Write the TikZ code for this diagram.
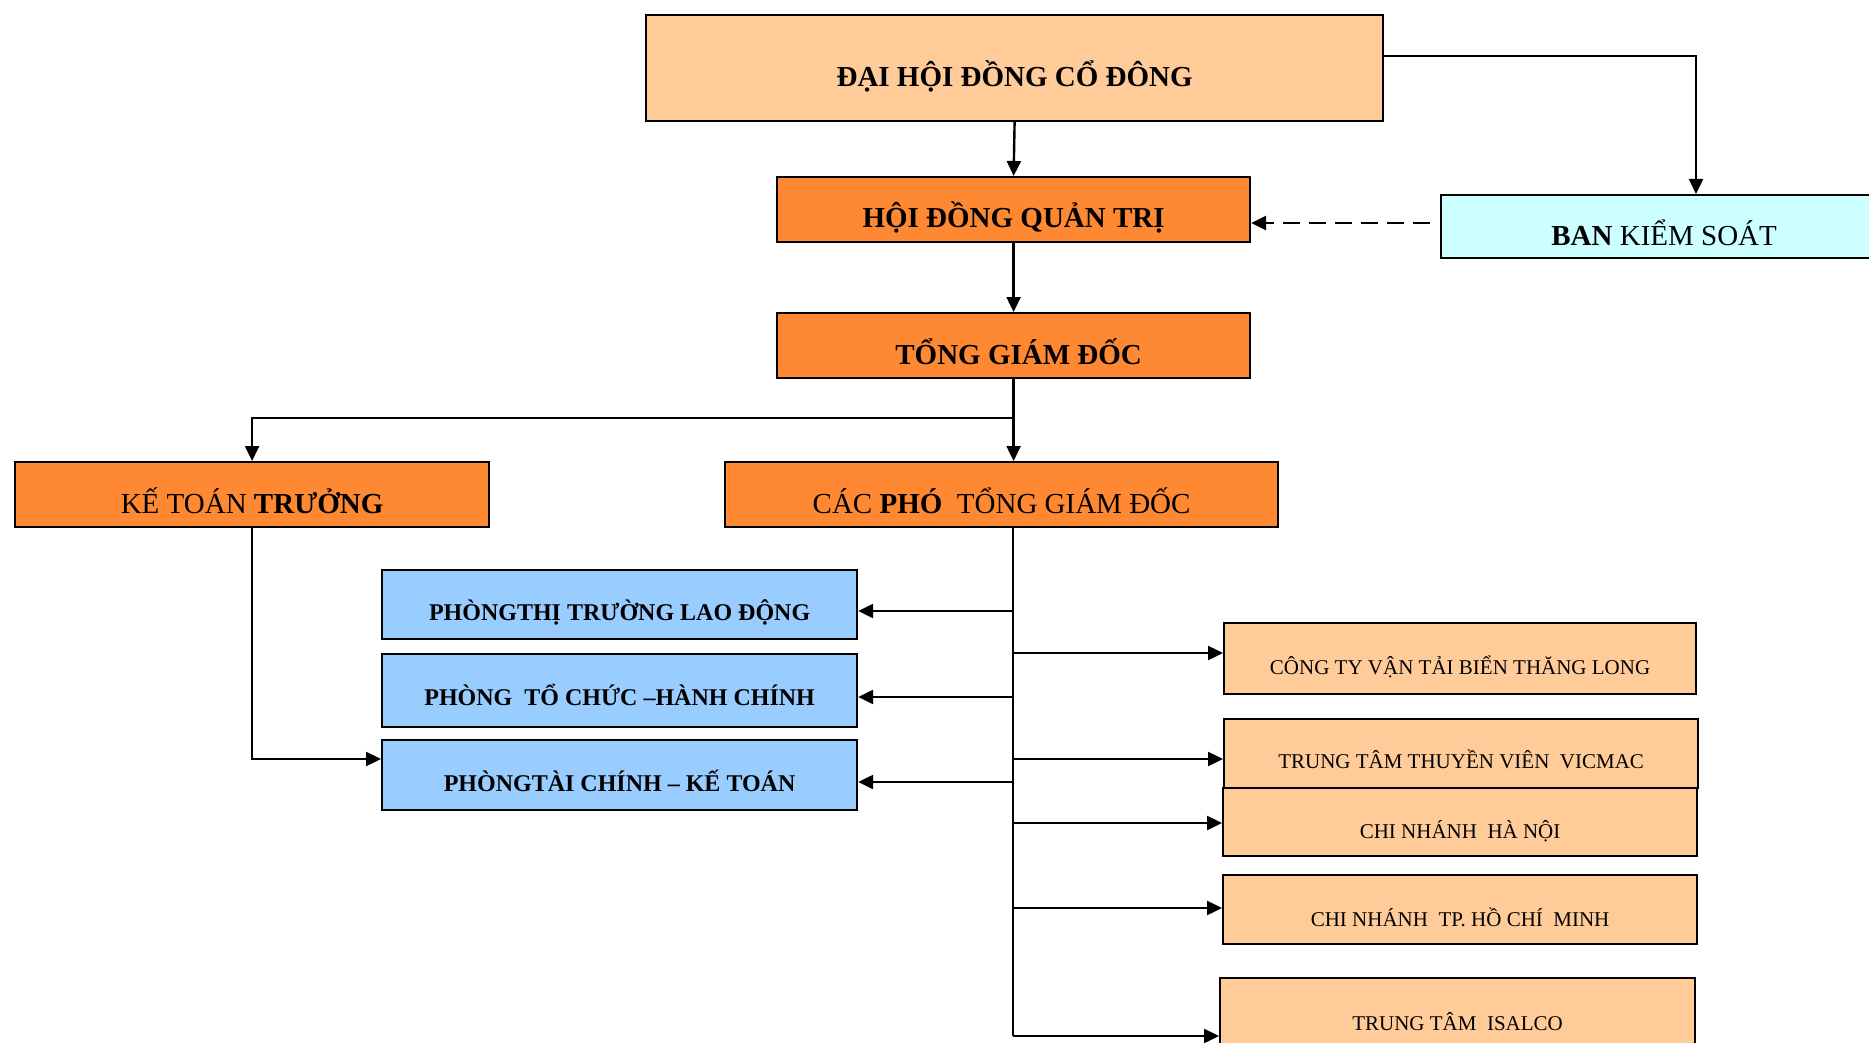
\documentclass[tikz,border=0pt]{standalone}
\usepackage{fontspec}
\setmainfont{Liberation Serif}
\usetikzlibrary{arrows.meta}
\definecolor{peach}{HTML}{FFCC99}
\definecolor{orng}{HTML}{FF8833}
\definecolor{cyanl}{HTML}{CCFFFF}
\definecolor{bluel}{HTML}{99CCFF}
\begin{document}
\begin{tikzpicture}[x=1pt,y=-1pt,
  box/.style={draw=black,line width=2.2pt,inner sep=0pt,anchor=north west},
  tA/.style={inner sep=0pt,font=\fontsize{29}{34}\selectfont,text height=19.2pt,text depth=0pt},
  tB/.style={inner sep=0pt,font=\fontsize{24}{28}\selectfont\bfseries,text height=15.9pt,text depth=0pt},
  tC/.style={inner sep=0pt,font=\fontsize{21}{25}\selectfont,text height=13.9pt,text depth=0pt},
  arr/.style={line width=2.4pt,-{Triangle[length=15pt,width=14pt]}},
  plain/.style={line width=2.4pt},
  dasharr/.style={line width=2.6pt,dash pattern=on 17pt off 9pt,-{Triangle[length=15pt,width=14pt]}}]
\useasboundingbox (0,0) rectangle (1869,1043);
\clip (0,0) rectangle (1869,1043);
% boxes
\node[box,fill=peach,minimum width=737pt,minimum height=106pt] (dhd) at (645,14) {};
\node[box,fill=orng,minimum width=473pt,minimum height=65pt] (hdqt) at (776,176) {};
\node[box,fill=cyanl,minimum width=446pt,minimum height=63pt] (bks) at (1440,194) {};
\node[box,fill=orng,minimum width=473pt,minimum height=65pt] (tgd) at (776,312) {};
\node[box,fill=orng,minimum width=474pt,minimum height=65pt] (ktt) at (14,461) {};
\node[box,fill=orng,minimum width=553pt,minimum height=65pt] (ptgd) at (724,461) {};
\node[box,fill=bluel,minimum width=475pt,minimum height=69pt] (p1) at (381,569) {};
\node[box,fill=bluel,minimum width=475pt,minimum height=73pt] (p2) at (381,653) {};
\node[box,fill=bluel,minimum width=475pt,minimum height=70pt] (p3) at (381,739) {};
\node[box,fill=peach,minimum width=472pt,minimum height=71pt] (r1) at (1223,622) {};
\node[box,fill=peach,minimum width=474pt,minimum height=69pt] (r2) at (1223,718) {};
\node[box,fill=peach,minimum width=474pt,minimum height=68pt] (r3) at (1222,787) {};
\node[box,fill=peach,minimum width=474pt,minimum height=69pt] (r4) at (1222,874) {};
\node[box,fill=peach,minimum width=475pt,minimum height=72pt] (r5) at (1219,977) {};
% texts
\node[tA,font=\fontsize{29}{34}\selectfont\bfseries] (dhd-t) at ([yshift=-8.5pt]dhd.center) {ĐẠI HỘI ĐỒNG CỔ ĐÔNG};
\node[tA,font=\fontsize{29}{34}\selectfont\bfseries] (hdqt-t) at ([yshift=-8.5pt]hdqt.center) {HỘI ĐỒNG QUẢN TRỊ};
\node[tA] (bks-t) at ([yshift=-9pt]bks.center) {\textbf{BAN} KIỂM SOÁT};
\node[tA,font=\fontsize{29}{34}\selectfont\bfseries] (tgd-t) at ([xshift=5pt,yshift=-9pt]tgd.center) {TỔNG GIÁM ĐỐC};
\node[tA] (ktt-t) at ([yshift=-9pt]ktt.center) {KẾ TOÁN \textbf{TRƯỞNG}};
\node[tA] (ptgd-t) at ([yshift=-9pt]ptgd.center) {CÁC \textbf{PHÓ}\ \ TỔNG GIÁM ĐỐC};
\node[tB] (p1-t) at ([yshift=-7.5pt]p1.center) {PHÒNGTHỊ TRƯỜNG LAO ĐỘNG};
\node[tB] (p2-t) at ([yshift=-6.5pt]p2.center) {PHÒNG\ \ TỔ CHỨC –HÀNH CHÍNH};
\node[tB] (p3-t) at ([yshift=-8pt]p3.center) {PHÒNGTÀI CHÍNH – KẾ TOÁN};
\node[tC] (r1-t) at ([yshift=-8.5pt]r1.center) {CÔNG TY VẬN TẢI BIỂN THĂNG LONG};
\node[tC] (r2-t) at ([yshift=-7.5pt]r2.center) {TRUNG TÂM THUYỀN VIÊN\ \ VICMAC};
\node[tC] (r3-t) at ([yshift=-9pt]r3.center) {CHI NHÁNH\ \ HÀ NỘI};
\node[tC] (r4-t) at ([yshift=-9.5pt]r4.center) {CHI NHÁNH\ \ TP. HỒ CHÍ\ \ MINH};
\node[tC] (r5-t) at ([yshift=-9pt]r5.center) {TRUNG TÂM\ \ ISALCO};
% connectors
\coordinate (c1) at (1696,56);
\coordinate (dk) at (1430,223);
\coordinate (br) at (1013,418);
\coordinate (tk) at (1013,526);
\coordinate (tkend) at (1013,1036);
\coordinate (kb) at (250,759);
\draw[arr] (dhd.south) -- (hdqt.north);
\draw[arr] (dhd.east |- c1) -- (c1) -- (c1 |- bks.north);
\draw[dasharr] (dk) -- (hdqt.east |- dk);
\draw[arr] (hdqt.south) -- (tgd.north);
\draw[arr] (tgd.south) -- (tgd.south |- ptgd.north);
\draw[arr] (br) -| (ktt.north);
\draw[plain] (tk) -- (tkend);
\coordinate (y1) at (0,611);
\coordinate (y2) at (0,697);
\coordinate (y3) at (0,782);
\draw[arr] (tk |- y1) -- (p1.east |- y1);
\draw[arr] (tk |- y2) -- (p2.east |- y2);
\draw[arr] (tk |- y3) -- (p3.east |- y3);
\coordinate (z1) at (0,653);
\coordinate (z2) at (0,759);
\coordinate (z3) at (0,823);
\coordinate (z4) at (0,908);
\coordinate (z5) at (0,1036);
\draw[arr] (tk |- z1) -- (r1.west |- z1);
\draw[arr] (tk |- z2) -- (r2.west |- z2);
\draw[arr] (tk |- z3) -- (r3.west |- z3);
\draw[arr] (tk |- z4) -- (r4.west |- z4);
\draw[arr] (tk |- z5) -- (r5.west |- z5);
\draw[arr] (ktt.south) -- (ktt.south |- kb) -- (p3.west |- kb);
\end{tikzpicture}
\end{document}
